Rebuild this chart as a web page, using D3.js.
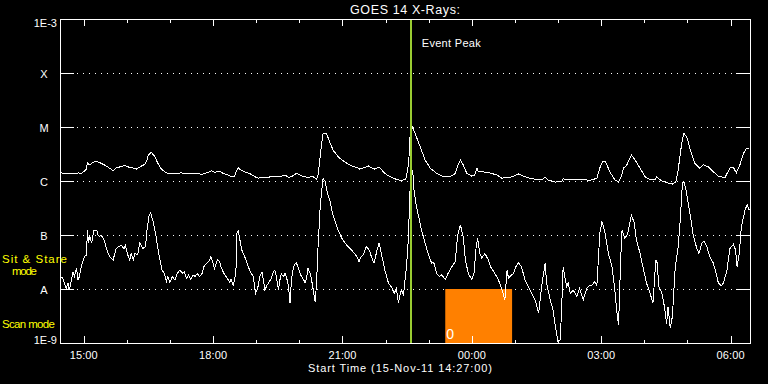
<!DOCTYPE html>
<html>
<head>
<meta charset="utf-8">
<script src="https://cdn.jsdelivr.net/npm/d3@7"></script>
<style>
  html, body { margin: 0; padding: 0; background: #000; }
  svg { display: block; }
  text { font-family: "Liberation Sans", Arial, sans-serif; fill: #fff; }
</style>
</head>
<body>
<div id="chart"></div>
<script>
// =================================================================
// = GOES 14 X-ray flux plot, 16 hours from 15-Nov-11 14:27:00
// =================================================================

// time axis
let startTime = '2011-11-15T14:27:00Z';
let spanHours = 16;
let eventPeakTime = '2011-11-15T22:35:00Z';
let scanStart = '2011-11-15T23:23:00Z';
let scanEnd = '2011-11-16T00:56:00Z';

// flux levels and their labels
let levels = [1e-3, 1e-4, 1e-5, 1e-6, 1e-7, 1e-8, 1e-9];
let levelLabels = ['1E-3', 'X', 'M', 'C', 'B', 'A', '1E-9'];
let gridLevels = [1e-4, 1e-5, 1e-6, 1e-7, 1e-8];

// 1-8 A channel: minutes after start, log10 flux (W/m^2)
let longMinutes = [
    1, 11, 20, 25, 30, 37, 38, 41, 48, 52,
    57, 64, 71, 74, 78, 83, 90, 97, 102, 106,
    111, 118, 121, 123, 127, 132, 136, 141, 146, 150,
    160, 169, 176, 183, 192, 197, 204, 211, 215, 222,
    227, 234, 238, 243, 246, 248, 250, 257, 264, 271,
    276, 281, 290, 297, 301, 308, 313, 318, 322, 329,
    334, 339, 345, 352, 357, 359, 362, 364, 366, 371,
    376, 380, 387, 392, 399, 406, 413, 417, 422, 429,
    434, 438, 444, 448, 452, 459, 466, 471, 475, 480,
    482, 484, 486, 487, 488, 489, 494, 501, 508, 515,
    524, 533, 543, 550, 554, 557, 561, 566, 573, 577,
    580, 582, 589, 598, 608, 615, 622, 626, 631, 638,
    645, 654, 663, 670, 675, 679, 689, 698, 700, 705,
    719, 728, 737, 747, 751, 755, 759, 765, 772, 777,
    781, 784, 788, 795, 800, 807, 814, 821, 828, 830,
    837, 847, 852, 857, 860, 865, 868, 872, 877, 883,
    890, 895, 902, 909, 916, 925, 932, 937, 941, 946,
    951, 955, 959
];
let longLogFlux = [
    -5.85, -5.86, -5.87, -5.85, -5.86, -5.78, -5.66, -5.70, -5.64, -5.64,
    -5.67, -5.72, -5.78, -5.81, -5.76, -5.74, -5.71, -5.75, -5.76, -5.78,
    -5.74, -5.69, -5.61, -5.52, -5.47, -5.55, -5.67, -5.78, -5.83, -5.86,
    -5.86, -5.85, -5.86, -5.87, -5.86, -5.88, -5.85, -5.81, -5.84, -5.82,
    -5.86, -5.89, -5.92, -5.91, -5.80, -5.75, -5.78, -5.83, -5.86, -5.92,
    -5.95, -5.93, -5.93, -5.91, -5.92, -5.91, -5.89, -5.93, -5.92, -5.86,
    -5.89, -5.92, -5.93, -5.92, -5.97, -5.89, -5.55, -5.30, -5.12, -5.13,
    -5.30, -5.43, -5.55, -5.61, -5.67, -5.72, -5.75, -5.78, -5.76, -5.72,
    -5.76, -5.78, -5.74, -5.80, -5.86, -5.92, -5.96, -5.98, -5.99, -5.97,
    -5.93, -5.76, -5.49, -5.18, -4.99, -4.96, -5.12, -5.36, -5.61, -5.76,
    -5.86, -5.92, -5.92, -5.86, -5.70, -5.61, -5.70, -5.86, -5.91, -5.89,
    -5.76, -5.83, -5.83, -5.85, -5.89, -5.95, -5.93, -5.93, -5.91, -5.87,
    -5.91, -5.95, -5.97, -5.98, -5.93, -5.98, -6.02, -6.01, -5.96, -5.98,
    -5.98, -5.97, -5.99, -5.95, -5.76, -5.64, -5.64, -5.83, -5.98, -6.02,
    -5.91, -5.76, -5.72, -5.52, -5.61, -5.76, -5.92, -5.98, -5.97, -5.92,
    -6.00, -6.04, -6.06, -6.01, -5.80, -5.30, -5.12, -5.18, -5.43, -5.67,
    -5.76, -5.70, -5.74, -5.83, -5.91, -5.94, -5.76, -5.75, -5.85, -5.70,
    -5.49, -5.39, -5.39
];

// 0.5-4 A channel: minutes after start, log10 flux (W/m^2)
let shortMinutes = [
    1, 4, 7, 9, 11, 13, 16, 18, 20, 23,
    25, 27, 30, 32, 34, 37, 38, 40, 41, 44,
    47, 51, 53, 55, 57, 60, 62, 66, 69, 74,
    78, 81, 85, 89, 91, 95, 97, 99, 102, 104,
    108, 111, 113, 115, 119, 121, 124, 126, 129, 133,
    135, 139, 142, 145, 148, 150, 153, 156, 160, 163,
    167, 170, 173, 176, 179, 182, 185, 188, 191, 194,
    198, 200, 204, 207, 210, 213, 215, 219, 222, 224,
    228, 231, 234, 236, 238, 241, 243, 245, 246, 248,
    253, 257, 262, 266, 269, 272, 275, 278, 281, 283,
    285, 288, 290, 294, 297, 299, 301, 304, 306, 308,
    311, 313, 315, 318, 320, 322, 325, 327, 329, 332,
    334, 336, 339, 341, 343, 345, 348, 350, 352, 355,
    357, 359, 362, 364, 366, 369, 372, 376, 379, 383,
    387, 392, 399, 406, 413, 416, 419, 422, 426, 429,
    431, 434, 437, 441, 444, 448, 452, 457, 461, 465,
    468, 471, 473, 475, 478, 480, 482, 484, 485, 486,
    487, 489, 491, 492, 495, 499, 503, 508, 512, 517,
    520, 524, 528, 531, 536, 540, 545, 550, 553, 557,
    561, 564, 568, 573, 576, 579, 581, 584, 587, 591,
    596, 599, 605, 610, 615, 619, 622, 624, 626, 631,
    634, 638, 642, 647, 652, 656, 661, 666, 670, 675,
    677, 682, 686, 690, 693, 696, 698, 700, 703, 705,
    707, 710, 714, 719, 723, 728, 733, 737, 740, 744,
    747, 749, 751, 754, 758, 763, 768, 772, 774, 777,
    778, 780, 782, 786, 790, 795, 799, 802, 807, 812,
    816, 821, 825, 829, 831, 833, 837, 841, 844, 846,
    849, 852, 856, 860, 863, 866, 868, 871, 874, 878,
    881, 886, 889, 893, 896, 900, 904, 909, 914, 916,
    920, 923, 928, 932, 937, 940, 942, 945, 948, 953,
    956, 959
];
let shortLogFlux = [
    -7.77, -7.80, -7.93, -7.99, -7.89, -8.02, -7.83, -7.68, -7.77, -7.62,
    -7.83, -7.77, -7.56, -7.49, -7.40, -7.37, -6.91, -7.15, -7.00, -7.15,
    -6.91, -6.91, -7.00, -7.03, -7.00, -7.06, -7.12, -7.31, -7.40, -7.46,
    -7.25, -7.22, -7.19, -7.25, -7.19, -7.40, -7.46, -7.34, -7.46, -7.34,
    -7.37, -7.15, -7.19, -7.25, -7.22, -6.91, -6.63, -6.59, -6.72, -6.97,
    -7.15, -7.46, -7.65, -7.71, -7.86, -7.77, -7.88, -7.77, -7.83, -7.71,
    -7.65, -7.71, -7.68, -7.80, -7.74, -7.83, -7.74, -7.77, -7.71, -7.77,
    -7.71, -7.59, -7.52, -7.49, -7.40, -7.52, -7.62, -7.46, -7.49, -7.59,
    -7.71, -7.77, -7.83, -7.88, -7.82, -7.93, -7.83, -7.59, -6.97, -6.93,
    -7.28, -7.40, -7.59, -7.71, -7.77, -8.08, -7.99, -7.77, -7.68, -7.83,
    -8.02, -7.93, -7.89, -7.80, -7.68, -7.65, -7.77, -8.02, -7.83, -7.72,
    -7.77, -7.71, -7.77, -7.96, -8.26, -7.83, -7.59, -7.54, -7.52, -7.62,
    -7.71, -7.77, -7.83, -7.89, -7.80, -7.62, -7.71, -7.83, -7.99, -8.24,
    -7.89, -7.22, -6.48, -6.20, -5.95, -6.01, -6.23, -6.38, -6.60, -6.75,
    -6.91, -7.06, -7.19, -7.28, -7.40, -7.49, -7.40, -7.37, -7.22, -7.25,
    -7.31, -7.43, -7.52, -7.28, -7.15, -7.40, -7.65, -7.89, -7.96, -8.08,
    -7.99, -8.26, -8.11, -8.02, -8.11, -7.83, -7.59, -7.22, -6.91, -6.54,
    -6.17, -5.78, -5.85, -6.11, -6.41, -6.66, -6.91, -7.15, -7.34, -7.52,
    -7.51, -7.71, -7.77, -7.74, -7.82, -7.71, -7.59, -7.49, -7.03, -6.81,
    -7.03, -7.46, -7.71, -7.83, -7.71, -7.22, -7.06, -7.34, -7.43, -7.34,
    -7.46, -7.59, -7.71, -7.83, -8.02, -8.20, -7.65, -7.80, -7.77, -7.71,
    -7.59, -7.51, -7.59, -7.83, -7.96, -8.08, -8.20, -8.45, -7.96, -7.52,
    -7.89, -8.20, -8.39, -8.76, -8.98, -8.94, -8.33, -7.59, -7.83, -7.96,
    -7.89, -8.08, -8.02, -8.14, -7.99, -8.20, -7.99, -7.93, -7.93, -7.86,
    -7.93, -7.46, -6.97, -6.75, -6.94, -7.34, -7.59, -8.02, -8.33, -8.67,
    -8.33, -7.46, -6.91, -7.06, -6.97, -6.63, -6.78, -7.09, -7.34, -7.65,
    -7.89, -8.08, -8.26, -7.46, -7.52, -7.96, -8.05, -8.33, -8.64, -8.33,
    -8.73, -8.51, -7.59, -7.22, -6.72, -6.04, -6.01, -6.17, -6.41, -6.72,
    -7.00, -7.25, -7.34, -7.15, -7.12, -7.22, -7.40, -7.52, -7.77, -7.89,
    -7.94, -7.89, -7.65, -7.25, -7.17, -7.28, -7.59, -7.34, -6.85, -6.54,
    -6.44, -6.54
];

// plot box
let width = 768, height = 384;
let margin = {top: 19, left: 60, right: 18, bottom: 41};

let svg = d3.select('#chart').append('svg')
    .attr('width', width)
    .attr('height', height)
    .style('background', '#000');

let t0 = new Date(startTime);
let t1 = d3.utcHour.offset(t0, spanHours);

let x = d3.scaleUtc()
    .domain([t0, t1])
    .range([margin.left, width - margin.right]);
let y = d3.scaleLog()
    .domain([1e-9, 1e-3])
    .range([height - margin.bottom, margin.top]);

let x0 = x.range()[0], x1 = x.range()[1];
let yTop = y.range()[1], yBot = y.range()[0];

// build point lists from minutes + log flux
function series(minutes, logs) {
    let pts = [];
    for (let i = 0; i < Math.min(minutes.length, logs.length); i++) {
        pts.push({t: d3.utcMinute.offset(t0, minutes[i]), f: Math.pow(10, logs[i])});
    }
    return pts;
}

// dotted grid lines at the class levels
svg.append('g')
    .selectAll('line')
    .data(gridLevels)
    .join('line')
    .attr('x1', x0).attr('x2', x1)
    .attr('y1', d => Math.round(y(d)) + 0.5)
    .attr('y2', d => Math.round(y(d)) + 0.5)
    .attr('stroke', '#fff')
    .attr('stroke-dasharray', '1,5')
    .attr('stroke-dashoffset', -5)
    .attr('shape-rendering', 'crispEdges');

// scan mode block
svg.append('rect')
    .attr('x', x(new Date(scanStart)))
    .attr('y', y(1e-8))
    .attr('width', x(new Date(scanEnd)) - x(new Date(scanStart)))
    .attr('height', y(1e-9) - y(1e-8))
    .attr('fill', '#ff8000');

svg.append('text')
    .attr('x', x(new Date(scanStart)) + 1)
    .attr('y', yBot - 4)
    .attr('font-size', 14)
    .text('0');

// flux curves, drawn aliased like the original plot
let line = d3.line()
    .x(d => x(d.t))
    .y(d => y(d.f));

svg.append('path')
    .datum(series(longMinutes, longLogFlux))
    .attr('d', line)
    .attr('fill', 'none')
    .attr('stroke', '#fff')
    .attr('stroke-width', 1)
    .attr('shape-rendering', 'crispEdges');

svg.append('path')
    .datum(series(shortMinutes, shortLogFlux))
    .attr('d', line)
    .attr('fill', 'none')
    .attr('stroke', '#fff')
    .attr('stroke-width', 1)
    .attr('shape-rendering', 'crispEdges');

// event peak marker
let xp = x(new Date(eventPeakTime));
svg.append('line')
    .attr('x1', xp).attr('x2', xp)
    .attr('y1', yTop).attr('y2', yBot)
    .attr('stroke', '#9acd32')
    .attr('stroke-width', 2)
    .attr('shape-rendering', 'crispEdges');

svg.append('text')
    .attr('x', xp + 11)
    .attr('y', 47)
    .attr('font-size', 11)
    .attr('textLength', 59)
    .text('Event Peak');

// axis box
let axes = svg.append('g')
    .attr('stroke', '#fff')
    .attr('shape-rendering', 'crispEdges');

axes.append('rect')
    .attr('x', x0 + 0.5).attr('y', yTop + 0.5)
    .attr('width', x1 - x0).attr('height', yBot - yTop)
    .attr('fill', 'none');

// y ticks, both sides
levels.forEach(function(lv) {
    let yy = Math.round(y(lv)) + 0.5;
    axes.append('line').attr('x1', x0).attr('x2', x0 + 14).attr('y1', yy).attr('y2', yy);
    axes.append('line').attr('x1', x1 - 14).attr('x2', x1).attr('y1', yy).attr('y2', yy);
});

// x ticks, hourly, long every 3 hours, top and bottom
let hours = d3.utcHour.range(t0, t1);
hours.forEach(function(h) {
    let xx = Math.round(x(h)) + 0.5;
    let len = h.getUTCHours() % 3 === 0 ? 7 : 3.5;
    axes.append('line').attr('x1', xx).attr('x2', xx).attr('y1', yTop).attr('y2', yTop + len);
    axes.append('line').attr('x1', xx).attr('x2', xx).attr('y1', yBot - len).attr('y2', yBot);
});

// x tick labels
let fmt = d3.utcFormat('%H:%M');
svg.append('g')
    .selectAll('text')
    .data(hours.filter(h => h.getUTCHours() % 3 === 0))
    .join('text')
    .attr('x', d => x(d))
    .attr('y', 359)
    .attr('text-anchor', 'middle')
    .attr('font-size', 11)
    .attr('textLength', 28)
    .text(d => fmt(d));

// y labels: decade numbers right aligned, class letters centered
levels.forEach(function(lv, i) {
    let yy = y(lv);
    let dy = i === 0 ? 8 : (i === levels.length - 1 ? 1 : 4.5);
    let isLetter = levelLabels[i].length === 1;
    svg.append('text')
        .attr('x', isLetter ? 44 : 57)
        .attr('y', yy + dy)
        .attr('text-anchor', isLetter ? 'middle' : 'end')
        .attr('font-size', 11)
        .text(levelLabels[i]);
});

// titles
svg.append('text')
    .attr('x', (x0 + x1) / 2)
    .attr('y', 14)
    .attr('text-anchor', 'middle')
    .attr('font-size', 12.5)
    .attr('textLength', 110)
    .text('GOES 14 X-Rays:');

svg.append('text')
    .attr('x', (x0 + x1) / 2 - 5)
    .attr('y', 372)
    .attr('text-anchor', 'middle')
    .attr('font-size', 11)
    .attr('textLength', 184)
    .text('Start Time (15-Nov-11 14:27:00)');

// mode annotations
let modes = svg.append('g');
modes.append('text').attr('x', 2).attr('y', 263).attr('font-size', 11.5)
    .attr('textLength', 65).style('fill', '#ffff00').text('Sit & Stare');
modes.append('text').attr('x', 12).attr('y', 275).attr('font-size', 11.5)
    .attr('textLength', 25).style('fill', '#ffff00').text('mode');
modes.append('text').attr('x', 2).attr('y', 328).attr('font-size', 11.5)
    .attr('textLength', 53).style('fill', '#ffff00').text('Scan mode');
</script>
</body>
</html>
